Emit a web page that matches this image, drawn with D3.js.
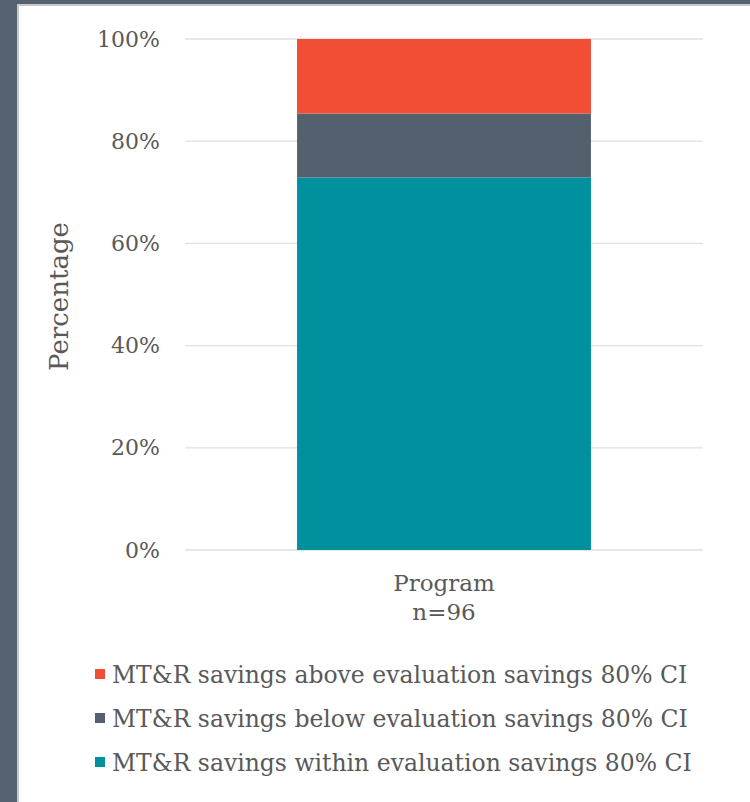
<!DOCTYPE html>
<html>
<head>
<meta charset="utf-8">
<script src="https://cdn.jsdelivr.net/npm/d3@7"></script>
<style>
  body{margin:0;padding:0;background:#fff;}
  #chart{width:750px;height:802px;}
</style>
</head>
<body>
<div id="chart"></div>
<script>
// data
var categories = ["Program"];
var categoryNotes = ["n=96"];
var seriesNames = [
  "MT&R savings within evaluation savings 80% CI",
  "MT&R savings below evaluation savings 80% CI",
  "MT&R savings above evaluation savings 80% CI"
];
var seriesCounts = [70, 12, 14];   // out of n=96
var seriesColors = ["#00909e", "#55606e", "#f24d35"];
var yTicks = [0, 0.2, 0.4, 0.6, 0.8, 1.0];
var total = 96;

var width = 750, height = 802;
var font = "'DejaVu Serif', 'Liberation Serif', serif";
var textColor = "#595959";

var svg = d3.select("#chart")
    .append("svg")
    .attr("width", width)
    .attr("height", height);

// slide frame
svg.append("rect").attr("x",0).attr("y",0).attr("width",width).attr("height",height).attr("fill","#fff");
svg.append("rect").attr("x",0).attr("y",0).attr("width",width).attr("height",4).attr("fill","#56626f");
svg.append("rect").attr("x",0).attr("y",0).attr("width",17).attr("height",height).attr("fill","#56626f");
svg.append("rect").attr("x",17).attr("y",4).attr("width",width-17).attr("height",2).attr("fill","#c9c9c9");
svg.append("rect").attr("x",17).attr("y",4).attr("width",2).attr("height",height-4).attr("fill","#c9c9c9");

var plotLeft = 185, plotRight = 703, plotTop = 39, plotBottom = 550;

var xScale = d3.scaleBand()
    .domain(categories)
    .range([plotLeft, plotRight])
    .padding(0.276);

var yScale = d3.scaleLinear()
    .domain([0, 1])
    .range([plotBottom, plotTop]);

// gridlines
svg.append("g")
    .selectAll("line")
    .data(yTicks)
    .enter()
    .append("line")
    .attr("x1", plotLeft)
    .attr("x2", plotRight)
    .attr("y1", function(d){ return yScale(d); })
    .attr("y2", function(d){ return yScale(d); })
    .attr("stroke", "#e0e0e0")
    .attr("stroke-width", 1.3);

// stacked bar
var stackData = [{cat: categories[0]}];
seriesNames.forEach(function(s, i){ stackData[0][s] = seriesCounts[i] / total; });
var stacked = d3.stack().keys(seriesNames)(stackData);

svg.append("g")
    .selectAll("g")
    .data(stacked)
    .enter()
    .append("g")
    .attr("fill", function(d, i){ return seriesColors[i]; })
    .selectAll("rect")
    .data(function(d){ return d; })
    .enter()
    .append("rect")
    .attr("x", function(d){ return xScale(d.data.cat); })
    .attr("width", xScale.bandwidth())
    .attr("y", function(d){ return yScale(d[1]); })
    .attr("height", function(d){ return yScale(d[0]) - yScale(d[1]); });

// y axis
var yAxis = d3.axisLeft(yScale)
    .tickValues(yTicks)
    .tickSize(0)
    .tickPadding(25)
    .tickFormat(d3.format(".0%"));

var gy = svg.append("g")
    .attr("transform", "translate(" + plotLeft + ",0)")
    .call(yAxis);
gy.select(".domain").remove();
gy.selectAll("text")
    .attr("font-family", font)
    .attr("font-size", 22)
    .attr("fill", textColor);

// x axis
var xAxis = d3.axisBottom(xScale).tickSize(0).tickPadding(0).tickFormat("");
var gx = svg.append("g")
    .attr("transform", "translate(0," + plotBottom + ")")
    .call(xAxis);
gx.select(".domain").remove();
gx.selectAll(".tick").each(function(d, i){
  var t = d3.select(this).append("text")
      .attr("text-anchor", "middle")
      .attr("font-family", font)
      .attr("font-size", 23)
      .attr("fill", textColor);
  t.append("tspan").attr("x", 0).attr("y", 41).text(d);
  t.append("tspan").attr("x", 0).attr("y", 70).text(categoryNotes[i]);
});

// y label
svg.append("text")
    .attr("transform", "translate(68," + ((plotTop + plotBottom) / 2 + 2) + ") rotate(-90)")
    .attr("text-anchor", "middle")
    .attr("font-family", font)
    .attr("font-size", 26)
    .attr("fill", textColor)
    .text("Percentage");

// legend (top to bottom: above, below, within)
var legendOrder = [2, 1, 0];
var legend = svg.append("g")
    .selectAll("g")
    .data(legendOrder)
    .enter()
    .append("g")
    .attr("transform", function(d, i){ return "translate(95," + (675 + i * 44) + ")"; });

legend.append("rect")
    .attr("x", 0)
    .attr("y", -6)
    .attr("width", 10)
    .attr("height", 10)
    .attr("fill", function(d){ return seriesColors[d]; });

legend.append("text")
    .attr("x", 17)
    .attr("y", 0)
    .attr("dy", "0.35em")
    .attr("font-family", font)
    .attr("font-size", 23.5)
    .attr("fill", textColor)
    .text(function(d){ return seriesNames[d]; });
</script>
</body>
</html>
